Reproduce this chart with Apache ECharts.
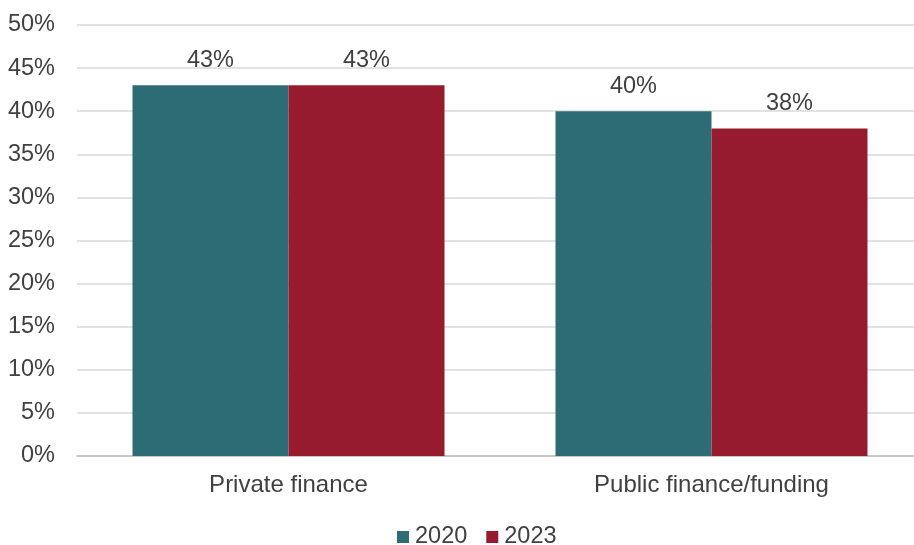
<!DOCTYPE html>
<html>
<head>
<meta charset="utf-8">
<script src="https://cdn.jsdelivr.net/npm/echarts@6/dist/echarts.min.js"></script>
<style>
  html, body { margin: 0; padding: 0; background: #fff; }
  #chart { width: 914px; height: 545px; }
</style>
</head>
<body>
<div id="chart"></div>
<script>
// Share of funding sources, by survey year
const categories = ['Private finance', 'Public finance/funding'];
const years = ['2020', '2023'];
const values2020 = [43, 40];
const values2023 = [43, 38];
const yTicks = { min: 0, max: 50, interval: 5 };

const colors = ['#2E6C75', '#961B2E'];
const textColor = '#404040';
const font = 'Liberation Sans, Arial, sans-serif';
const fontSize = 23.5;

const chart = echarts.init(document.getElementById('chart'), null, { renderer: 'canvas' });

const makeSeries = (name, data, color) => ({
  name,
  type: 'bar',
  data,
  barWidth: 156,
  barGap: '0%',
  itemStyle: { color },
  label: {
    show: true,
    position: 'top',
    distance: 13,
    formatter: p => p.value + '%',
    color: textColor,
    fontFamily: font,
    fontSize
  }
});

chart.setOption({
  animation: false,
  backgroundColor: '#ffffff',
  // plot area runs slightly past the right edge of the canvas
  grid: { left: 77, width: 846, top: 25, bottom: 89, containLabel: false, outerBoundsMode: 'none' },
  legend: {
    bottom: -9,
    left: 392,
    itemWidth: 12,
    itemHeight: 12,
    itemGap: 19,
    icon: 'rect',
    textStyle: { color: textColor, fontFamily: font, fontSize, padding: [0, 0, 0, 1] },
    data: years
  },
  xAxis: {
    type: 'category',
    data: categories,
    axisTick: { show: false },
    axisLine: { lineStyle: { color: '#BFBFBF', width: 1.5 } },
    axisLabel: { color: textColor, fontFamily: font, fontSize: 24, margin: 17 }
  },
  yAxis: {
    type: 'value',
    min: yTicks.min,
    max: yTicks.max,
    interval: yTicks.interval,
    axisLabel: { formatter: '{value}%', color: textColor, fontFamily: font, fontSize, margin: 22 },
    splitLine: { lineStyle: { color: '#D9D9D9', width: 1.5 } },
    axisLine: { show: false },
    axisTick: { show: false }
  },
  series: [
    makeSeries(years[0], values2020, colors[0]),
    makeSeries(years[1], values2023, colors[1])
  ]
});
</script>
</body>
</html>
